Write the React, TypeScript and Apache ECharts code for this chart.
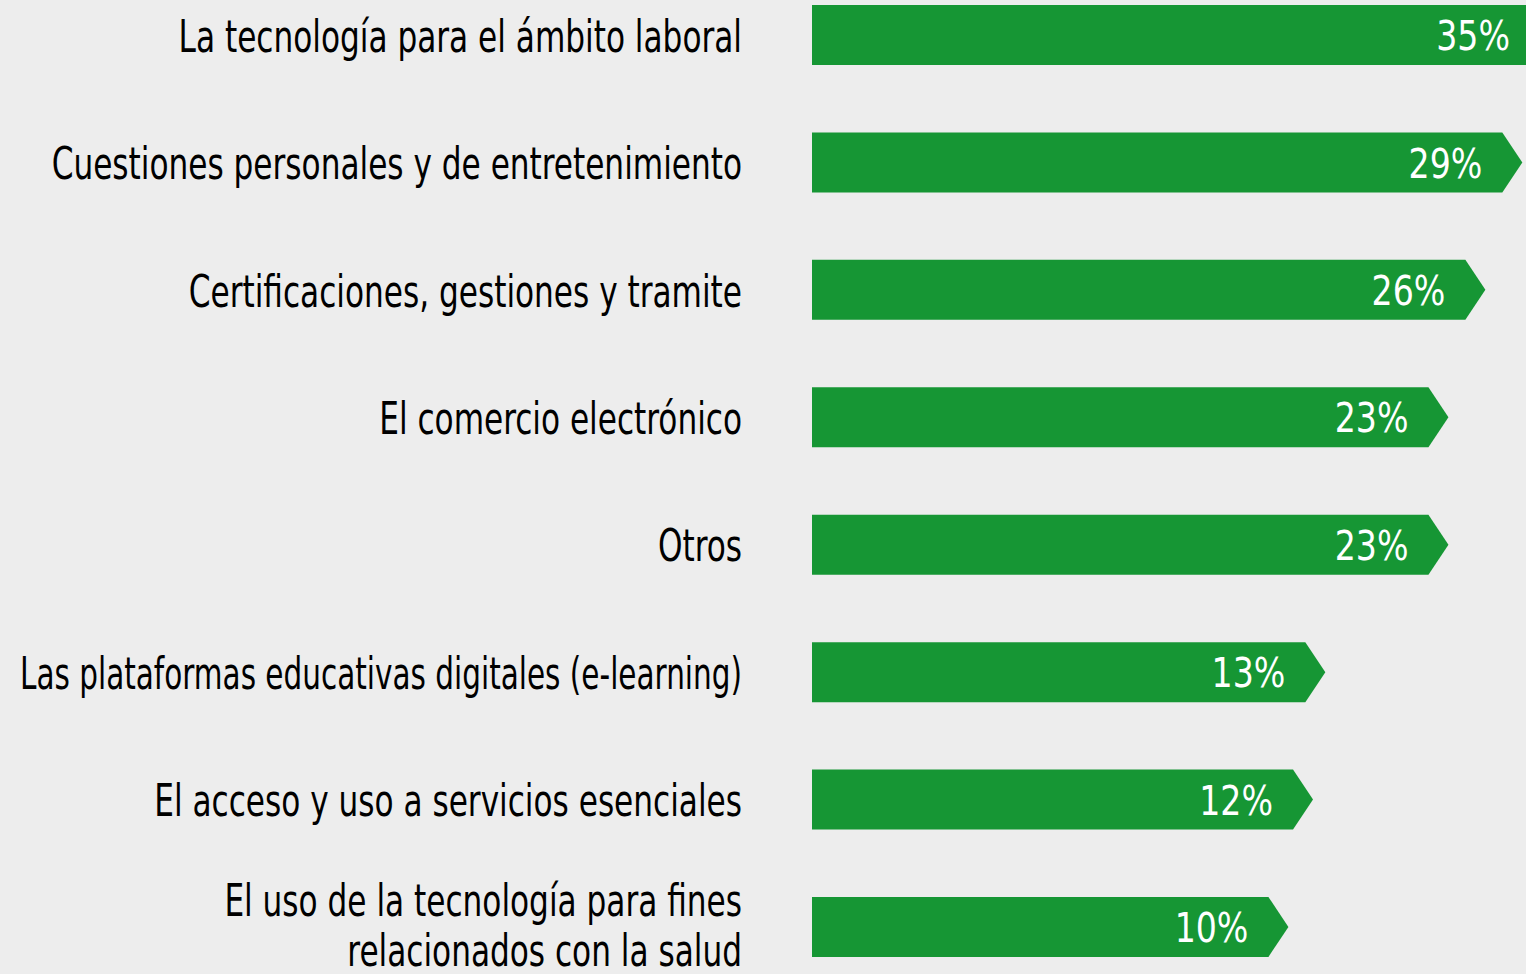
import React, { useEffect, useRef } from "react";
import * as echarts from "echarts";

const categories = [
  "La tecnología para el ámbito laboral",
  "Cuestiones personales y de entretenimiento",
  "Certificaciones, gestiones y tramite",
  "El comercio electrónico",
  "Otros",
  "Las plataformas educativas digitales (e-learning)",
  "El acceso y uso a servicios esenciales",
  "El uso de la tecnología para fines\nrelacionados con la salud",
];
const values = [35, 29, 26, 23, 23, 13, 12, 10];
const valueLabels = values.map((v) => `${v}%`);

const FONT = "'DejaVu Sans Condensed', 'DejaVu Sans', sans-serif";
const GREEN = "#169634";
const BG = "#ededed";
const CAT_SIZE = 45;

function labelScale(text: string): number {
  const ctx = document.createElement("canvas").getContext("2d");
  if (!ctx) return 0.77;
  ctx.font = `${CAT_SIZE}px ${FONT}`;
  const w = Math.max(...text.split("\n").map((t) => ctx.measureText(t).width));
  return Math.min(0.77, 722 / w);
}

export default function App() {
  const ref = useRef<HTMLDivElement>(null);
  useEffect(() => {
    document.body.style.margin = "0";
    document.body.style.background = BG;
    if (!ref.current) return;
    const chart = echarts.init(ref.current, undefined, { renderer: "svg" });
    const scales = categories.map(labelScale);
    chart.setOption({
      animation: false,
      backgroundColor: BG,
      grid: {
        left: 812,
        right: 0,
        top: -28.7,
        bottom: -16.7,
        containLabel: false,
        outerBoundsMode: "none",
      },
      xAxis: { type: "value", min: -28.7, max: 29.3, show: false },
      yAxis: {
        type: "category",
        inverse: true,
        data: categories,
        axisLine: { show: false },
        axisTick: { show: false },
        splitLine: { show: false },
        axisLabel: { show: false },
      },
      series: [
        {
          type: "custom",
          encode: { x: 0, y: 1 },
          clip: false,
          data: values.map((v, i) => [v, i]),
          renderItem: (params: any, api: any) => {
            const v = api.value(0);
            const i = api.value(1);
            const [tip, cy] = api.coord([v, i]);
            const left = params.coordSys.x;
            const h = 30;
            const ar = 20;
            const end = tip - ar;
            const lx = Math.min(end - 20, api.getWidth() - 16);
            const multi = categories[i].indexOf("\n") >= 0;
            return {
              type: "group",
              children: [
                {
                  type: "polygon",
                  shape: {
                    points: [
                      [left, cy - h],
                      [end, cy - h],
                      [tip, cy],
                      [end, cy + h],
                      [left, cy + h],
                    ],
                  },
                  style: { fill: GREEN },
                },
                {
                  type: "text",
                  x: lx,
                  y: cy + 1,
                  scaleX: 0.9,
                  style: {
                    text: valueLabels[i],
                    x: 0,
                    y: 0,
                    fill: "#fff",
                    fontSize: 41,
                    fontFamily: FONT,
                    align: "right",
                    verticalAlign: "middle",
                  },
                },
                {
                  type: "text",
                  x: left - 70,
                  y: multi ? cy - 2 : cy + 1,
                  scaleX: scales[i],
                  style: {
                    text: categories[i],
                    x: 0,
                    y: 0,
                    fill: "#000",
                    fontSize: CAT_SIZE,
                    lineHeight: 50,
                    fontFamily: FONT,
                    align: "right",
                    verticalAlign: "middle",
                  },
                },
              ],
            };
          },
        },
      ],
    });
    return () => chart.dispose();
  }, []);
  return <div ref={ref} style={{ width: 1526, height: 974, background: BG }} />;
}
